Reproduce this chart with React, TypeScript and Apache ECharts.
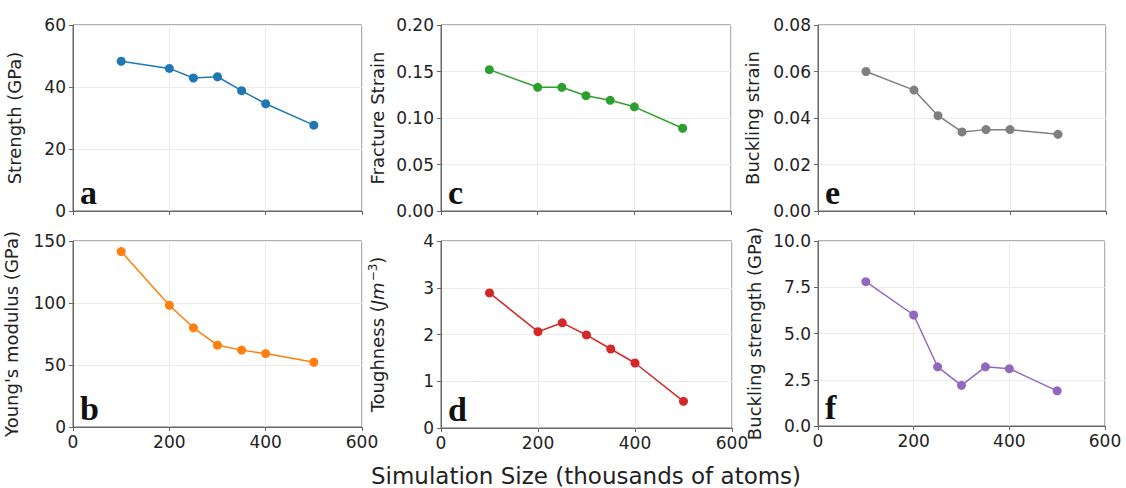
import React, { useEffect, useRef } from "react";
import * as echarts from "echarts";

const sizes = [100, 200, 250, 300, 350, 400, 500];
const strength = [48.3, 46.0, 42.9, 43.3, 38.8, 34.6, 27.7];
const youngs = [141.5, 98.2, 80.0, 66.0, 62.0, 59.2, 52.2];
const fractureStrain = [0.152, 0.133, 0.133, 0.124, 0.119, 0.112, 0.089];
const toughness = [2.89, 2.06, 2.25, 1.99, 1.69, 1.39, 0.57];
const bucklingStrain = [0.06, 0.052, 0.041, 0.034, 0.035, 0.035, 0.033];
const bucklingStrength = [7.8, 6.0, 3.2, 2.2, 3.2, 3.1, 1.9];
const xTicks = [0, 600, 200];

const FONT = "DejaVu Sans";

export default function App() {
  const ref = useRef<HTMLDivElement>(null);
  useEffect(() => {
    if (!ref.current) return;
    const chart = echarts.init(ref.current, null, { renderer: "svg" });
    const panels = [
      { key: "a", data: strength, color: "#1f77b4", name: "Strength (GPa)", min: 0, max: 60, interval: 20, dec: 0, grid: { left: 73, top: 25, width: 289, height: 186 }, gap: 50, showX: false },
      { key: "c", data: fractureStrain, color: "#2ca02c", name: "Fracture Strain", min: 0, max: 0.2, interval: 0.05, dec: 2, grid: { left: 441, top: 25, width: 290, height: 186 }, gap: 55, showX: false },
      { key: "e", data: bucklingStrain, color: "#7f7f7f", name: "Buckling strain", min: 0, max: 0.08, interval: 0.02, dec: 2, grid: { left: 818, top: 25, width: 288, height: 186 }, gap: 57, showX: false },
      { key: "b", data: youngs, color: "#ff7f0e", name: "Young's modulus (GPa)", min: 0, max: 150, interval: 50, dec: 0, grid: { left: 73, top: 241, width: 289, height: 186 }, gap: 53, showX: true },
      { key: "d", data: toughness, color: "#d62728", name: "{n|Toughness (}{i|Jm}{s|−3}{n|)}", min: 0, max: 4, interval: 1, dec: 0, grid: { left: 441, top: 241, width: 291, height: 187 }, gap: 54, showX: true },
      { key: "f", data: bucklingStrength, color: "#9467bd", name: "Buckling strength (GPa)", min: 0, max: 10, interval: 2.5, dec: 1, grid: { left: 818, top: 241, width: 287, height: 185 }, gap: 55, showX: true },
    ];
    const spine = "#666";
    const option: any = {
      animation: false,
      backgroundColor: "#ffffff",
      grid: panels.map((p) => ({ ...p.grid, show: true, borderColor: spine, borderWidth: 1, backgroundColor: "transparent" })),
      xAxis: panels.map((p, i) => ({
        type: "value",
        gridIndex: i,
        min: xTicks[0],
        max: xTicks[1],
        interval: xTicks[2],
        axisLine: { show: true, lineStyle: { color: spine, width: 1 } },
        axisTick: { show: true, inside: false, length: 4, lineStyle: { color: spine } },
        axisLabel: { show: p.showX, margin: 6, fontFamily: FONT, fontSize: 17, color: "#222" },
        splitLine: { show: true, lineStyle: { color: "#ebebeb", width: 1 } },
      })),
      yAxis: panels.map((p, i) => ({
        type: "value",
        gridIndex: i,
        min: p.min,
        max: p.max,
        interval: p.interval,
        name: p.name,
        nameLocation: "middle",
        nameRotate: 90,
        nameGap: p.gap,
        nameTextStyle: {
          fontFamily: FONT,
          fontSize: 18,
          color: "#222",
          rich: {
            n: { fontFamily: FONT, fontSize: 18, color: "#222" },
            i: { fontFamily: FONT, fontSize: 18, fontStyle: "italic", color: "#222" },
            s: { fontFamily: FONT, fontSize: 12, color: "#222", verticalAlign: "top", padding: [0, 0, 8, 1] },
          },
        },
        axisLine: { show: true, lineStyle: { color: spine, width: 1 } },
        axisTick: { show: true, inside: false, length: 4, lineStyle: { color: spine } },
        axisLabel: {
          margin: 7,
          fontFamily: FONT,
          fontSize: 17,
          color: "#222",
          formatter: (v: number) => v.toFixed(p.dec),
        },
        splitLine: { show: true, lineStyle: { color: "#ebebeb", width: 1 } },
      })),
      series: panels.map((p, i) => ({
        type: "line",
        xAxisIndex: i,
        yAxisIndex: i,
        data: sizes.map((x, j) => [x, p.data[j]]),
        symbol: "circle",
        symbolSize: 9,
        itemStyle: { color: p.color },
        lineStyle: { color: p.color, width: 1.5 },
      })),
      graphic: [
        ...panels.map((p) => ({
          type: "text",
          left: p.grid.left + 7,
          top: p.grid.top + p.grid.height - 36,
          style: { text: p.key, font: "bold 34px 'Liberation Serif', serif", fill: "#111" },
        })),
        {
          type: "text",
          x: 586,
          y: 476,
          style: {
            text: "Simulation Size (thousands of atoms)",
            font: "23px 'DejaVu Sans'",
            fill: "#222",
            align: "center",
            verticalAlign: "middle",
          },
        },
      ],
    };
    chart.setOption(option);
    return () => chart.dispose();
  }, []);
  return <div ref={ref} style={{ position: "fixed", left: 0, top: 0, width: 1126, height: 488 }} />;
}
